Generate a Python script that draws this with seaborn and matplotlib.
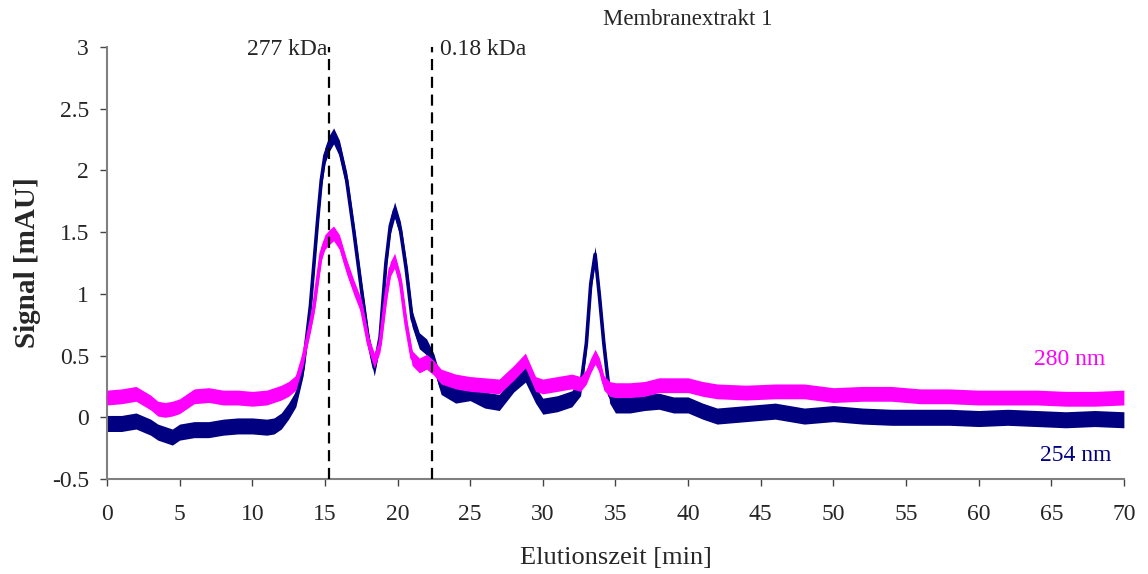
import numpy as np
import pandas as pd
import matplotlib
matplotlib.use("Agg")
import matplotlib.pyplot as plt
import seaborn as sns

# ---- data ----
time_min = [0, 1, 2, 3, 3.5, 4, 4.5, 5, 6, 7, 8, 9, 10, 11, 11.5, 12, 12.5, 13, 13.5, 14,
            14.25, 14.5, 14.75, 15, 15.3, 15.6, 16, 16.5, 17, 17.5, 18, 18.4, 18.8, 19.2,
            19.5, 19.8, 20.2, 20.6, 21, 21.5, 22, 22.5, 23, 24, 25, 26, 27, 28, 28.8, 29.5,
            30, 31, 32, 32.6, 33, 33.3, 33.6, 33.9, 34.2, 34.6, 35, 36, 37, 38, 39, 40, 41,
            42, 44, 46, 48, 50, 52, 54, 56, 58, 60, 62, 64, 66, 68, 70]

signal_254 = [-0.05, -0.05, -0.03, -0.08, -0.12, -0.14, -0.16, -0.12, -0.10, -0.10, -0.08,
              -0.07, -0.07, -0.08, -0.07, -0.03, 0.05, 0.15, 0.40, 0.90,
              1.25, 1.60, 1.92, 2.12, 2.22, 2.28, 2.18, 1.92, 1.50, 1.05, 0.62, 0.40, 0.65,
              1.25, 1.55, 1.68, 1.52, 1.20, 0.80, 0.62, 0.57, 0.45, 0.25, 0.18, 0.20, 0.14,
              0.12, 0.27, 0.35, 0.18, 0.09, 0.11, 0.15, 0.24, 0.60, 1.08, 1.32, 0.98, 0.60,
              0.18, 0.10, 0.10, 0.12, 0.13, 0.10, 0.10, 0.05, 0.01, 0.03, 0.05, 0.01, 0.03,
              0.01, 0.00, 0.00, 0.00, -0.01, 0.00, -0.01, -0.02, -0.01, -0.02]

signal_280 = [0.16, 0.17, 0.19, 0.12, 0.07, 0.06, 0.07, 0.09, 0.17, 0.18, 0.16, 0.16, 0.15,
              0.16, 0.18, 0.20, 0.23, 0.28, 0.48, 0.75,
              0.90, 1.12, 1.33, 1.42, 1.46, 1.49, 1.42, 1.22, 1.05, 0.90, 0.60, 0.46, 0.59,
              0.98, 1.20, 1.27, 1.10, 0.75, 0.48, 0.42, 0.45, 0.40, 0.33, 0.29, 0.27, 0.26,
              0.25, 0.36, 0.46, 0.27, 0.25, 0.27, 0.29, 0.27, 0.33, 0.42, 0.49, 0.42, 0.28,
              0.23, 0.22, 0.22, 0.23, 0.26, 0.26, 0.26, 0.23, 0.21, 0.20, 0.21, 0.21, 0.18,
              0.19, 0.19, 0.17, 0.17, 0.16, 0.16, 0.16, 0.15, 0.15, 0.16]

# half-width of the noise band seen around each trace
noise_254 = 0.065
noise_280 = 0.06

marker_times = [15.3, 22.4]
marker_labels = ["277 kDa", "0.18 kDa"]

x_ticks = list(range(0, 71, 5))
y_ticks = [-0.5, 0, 0.5, 1, 1.5, 2, 2.5, 3]
y_tick_labels = ["-0.5", "0", "0.5", "1", "1.5", "2", "2.5", "3"]

df = pd.DataFrame({"t": time_min, "s254": signal_254, "s280": signal_280})

sns.set_style("white")
plt.rcParams["font.family"] = ["Liberation Serif", "DejaVu Serif"]

fig = plt.figure(figsize=(11.48, 5.74), dpi=100)
ax = fig.add_axes([0.0932, 0.1655, 0.8858, 0.7525])

navy = "#000080"
mag = "#FF00FF"

t = np.array(time_min)
s254 = np.array(signal_254)
s280 = np.array(signal_280)

ax.fill_between(t, s254 - noise_254, s254 + noise_254, color=navy, linewidth=0, zorder=2)
sns.lineplot(data=df, x="t", y="s254", ax=ax, color=navy, linewidth=2.6, zorder=2)
ax.fill_between(t, s280 - noise_280, s280 + noise_280, color=mag, linewidth=0, zorder=3)
sns.lineplot(data=df, x="t", y="s280", ax=ax, color=mag, linewidth=2.6, zorder=3)

for mt in marker_times:
    ax.plot([mt, mt], [-0.5, 3.0], color="black", linestyle=(0, (5, 3)), linewidth=1.6, zorder=4)

ax.text(15.17, 2.933, marker_labels[0], ha="right", va="baseline", fontsize=17)
ax.text(22.95, 2.933, marker_labels[1], ha="left", va="baseline", fontsize=17)

ax.text(68.75, 0.42, "280 nm", color=mag, ha="right", va="baseline", fontsize=17)
ax.text(69.17, -0.351, "254 nm", color=navy, ha="right", va="baseline", fontsize=17)

fig.text(688 / 1148, 1 - 25 / 574, "Membranextrakt 1", ha="center", va="baseline", fontsize=16.5)

ax.set_xlim(0, 70)
ax.set_ylim(-0.5, 3)
ax.set_xticks(x_ticks)
ax.set_xticklabels([str(v) for v in x_ticks])
ax.set_yticks(y_ticks)
ax.set_yticklabels(y_tick_labels)
ax.tick_params(axis="both", direction="out", length=5, width=1, color="#444444",
               labelsize=17)
ax.tick_params(axis="y", pad=8)
ax.tick_params(axis="x", pad=13)
ax.tick_params(left=True, bottom=True)

for side in ["top", "right"]:
    ax.spines[side].set_visible(False)
for side in ["left", "bottom"]:
    ax.spines[side].set_color("#808080")
    ax.spines[side].set_linewidth(1.5)

ax.set_xlabel("Elutionszeit [min]", fontsize=19, labelpad=16)
ax.set_ylabel("Signal [mAU]", fontsize=21, fontweight="bold", labelpad=8)

fig.savefig("out.png", dpi=100)
